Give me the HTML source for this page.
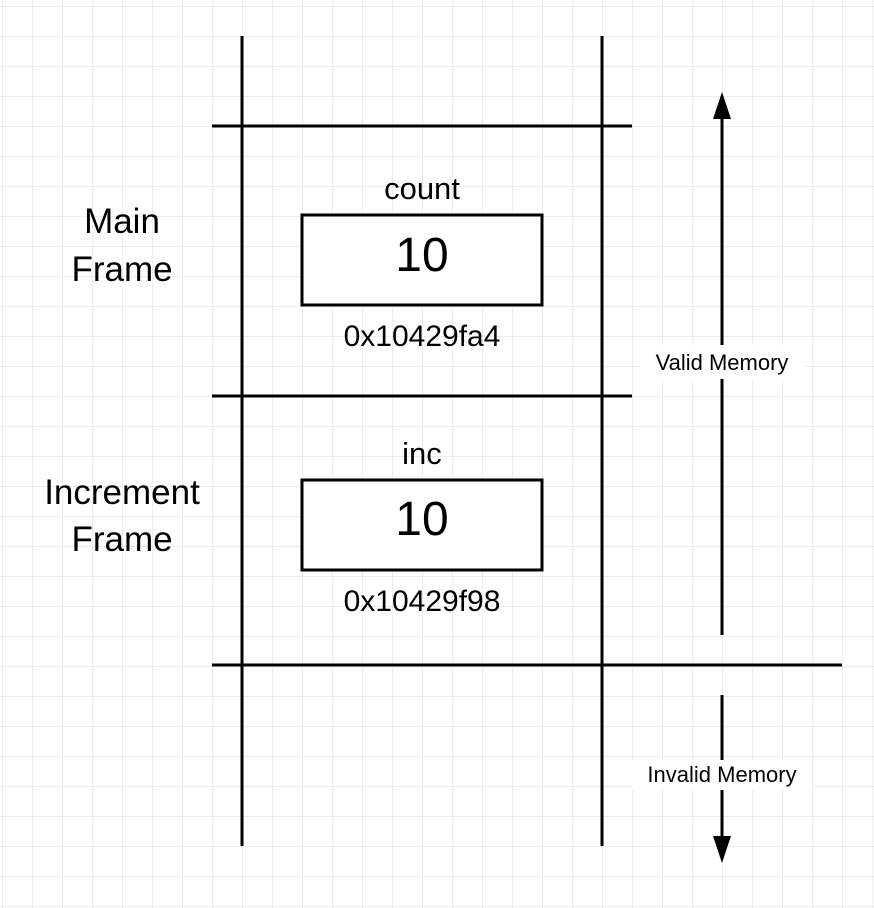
<!DOCTYPE html>
<html><head><meta charset="utf-8"><style>
html,body{margin:0;padding:0;background:#fff;}
svg{display:block;}
text{font-family:"Liberation Sans",Arial,sans-serif;fill:#000;}
</style></head><body>
<svg width="874" height="908" viewBox="0 0 874 908" xmlns="http://www.w3.org/2000/svg">
<defs>
<pattern id="g" x="2" y="6" width="30" height="30" patternUnits="userSpaceOnUse">
<path d="M0 0H30M0 0V30" stroke="#e2e2e2" stroke-width="1.2" fill="none"/>
</pattern>
</defs>
<rect width="874" height="908" fill="url(#g)"/>
<g stroke="#000" stroke-width="3" fill="none">
<line x1="242" y1="36" x2="242" y2="846"/>
<line x1="602" y1="36" x2="602" y2="846"/>
<line x1="212" y1="126" x2="632" y2="126"/>
<line x1="212" y1="396" x2="632" y2="396"/>
<line x1="212" y1="665" x2="842" y2="665"/>
<rect x="302" y="215" width="240" height="90" fill="#fff"/>
<rect x="302" y="480" width="240" height="90" fill="#fff"/>
<line x1="722" y1="116" x2="722" y2="635"/>
<line x1="722" y1="695" x2="722" y2="840"/>
</g>
<polygon points="722,92 713,119 731,119" fill="#000"/>
<polygon points="722,863 713,836 731,836" fill="#000"/>
<rect x="640" y="345" width="164" height="34" fill="#fff"/>
<rect x="632" y="760" width="180" height="30" fill="#fff"/>
<text x="722" y="370" font-size="22" text-anchor="middle">Valid Memory</text>
<text x="722" y="782" font-size="22" text-anchor="middle">Invalid Memory</text>
<text x="122" y="233" font-size="35" text-anchor="middle">Main</text>
<text x="122" y="281" font-size="35" text-anchor="middle">Frame</text>
<text x="122" y="504" font-size="35" text-anchor="middle">Increment</text>
<text x="122" y="551" font-size="35" text-anchor="middle">Frame</text>
<text x="422" y="199" font-size="31" text-anchor="middle">count</text>
<text x="422" y="271" font-size="48" text-anchor="middle">10</text>
<text x="422" y="346" font-size="30" text-anchor="middle">0x10429fa4</text>
<text x="422" y="464" font-size="31" text-anchor="middle">inc</text>
<text x="422" y="535" font-size="48" text-anchor="middle">10</text>
<text x="422" y="611" font-size="30" text-anchor="middle">0x10429f98</text>
</svg>
</body></html>
